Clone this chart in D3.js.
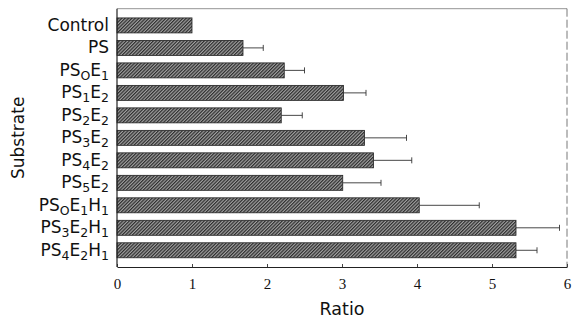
<!DOCTYPE html>
<html><head><meta charset="utf-8">
<script src="https://cdn.jsdelivr.net/npm/d3@7"></script>
<style>body{margin:0;background:#fff}svg{display:block}</style>
</head><body>
<svg id="c" width="573" height="321"></svg>
<script>
// label parts: [text, isSubscript]
const categories = [
  [["Control",0]],
  [["PS",0]],
  [["PS",0],["O",1],["E",0],["1",1]],
  [["PS",0],["1",1],["E",0],["2",1]],
  [["PS",0],["2",1],["E",0],["2",1]],
  [["PS",0],["3",1],["E",0],["2",1]],
  [["PS",0],["4",1],["E",0],["2",1]],
  [["PS",0],["5",1],["E",0],["2",1]],
  [["PS",0],["O",1],["E",0],["1",1],["H",0],["1",1]],
  [["PS",0],["3",1],["E",0],["2",1],["H",0],["1",1]],
  [["PS",0],["4",1],["E",0],["2",1],["H",0],["1",1]]
];
const values = [1.0, 1.68, 2.23, 3.02, 2.19, 3.3, 3.42, 3.01, 4.03, 5.32, 5.32];
const errors = [0, 0.27, 0.27, 0.3, 0.28, 0.56, 0.51, 0.51, 0.8, 0.58, 0.28];
const xTicks = [0,1,2,3,4,5,6];

const svg = d3.select("#c");
const L = 117, R = 567, T = 8.7, B = 267;
const x = d3.scaleLinear().domain([0,6]).range([L,R]);
const y = d3.scaleBand().domain(d3.range(categories.length)).range([T,B]).paddingInner(1/3).paddingOuter(0.41);

const defs = svg.append("defs");
const pat = defs.append("pattern").attr("id","hatch").attr("patternUnits","userSpaceOnUse")
  .attr("width",2.4).attr("height",2.4).attr("patternTransform","rotate(45)");
pat.append("rect").attr("width",2.4).attr("height",2.4).attr("fill","#a0a0a0");
pat.append("rect").attr("width",1.2).attr("height",2.4).attr("fill","#2e2e2e");

// frame
svg.append("line").attr("x1",L).attr("x2",R).attr("y1",T).attr("y2",T).attr("stroke","#777").attr("stroke-width",0.8);
svg.append("line").attr("x1",R).attr("x2",R).attr("y1",T).attr("y2",B).attr("stroke","#555").attr("stroke-width",0.8).attr("stroke-dasharray","8,3");

// bars
svg.append("g").selectAll("rect").data(values).join("rect")
  .attr("x", x(0)).attr("y",(d,i)=>y(i)).attr("width",d=>x(d)-x(0)).attr("height",y.bandwidth())
  .attr("fill","url(#hatch)").attr("stroke","#222").attr("stroke-width",0.8);

// error bars
const eg = svg.append("g").attr("stroke","#333").attr("stroke-width",0.9);
values.forEach((v,i)=>{
  if(!errors[i]) return;
  const cy = y(i)+y.bandwidth()/2;
  eg.append("line").attr("x1",x(v)).attr("x2",x(v+errors[i])).attr("y1",cy).attr("y2",cy);
  eg.append("line").attr("x1",x(v+errors[i])).attr("x2",x(v+errors[i])).attr("y1",cy-3).attr("y2",cy+3);
});

// axes
const xa = svg.append("g").attr("transform",`translate(0,${B})`)
  .call(d3.axisBottom(x).tickValues(xTicks).tickSizeInner(-3).tickSizeOuter(0).tickPadding(11).tickFormat(d3.format("d")));
xa.select(".domain").attr("stroke","#222").attr("stroke-width",1.2);
xa.selectAll(".tick line").attr("stroke","#444");
xa.selectAll("text").attr("font-family","'Liberation Serif', serif").attr("font-size",15).attr("fill","#111");
svg.append("line").attr("x1",L).attr("x2",L).attr("y1",T).attr("y2",B).attr("stroke","#222").attr("stroke-width",1.2);

// category labels
const lg = svg.append("g").attr("font-family","'DejaVu Sans', sans-serif").attr("fill","#111");
categories.forEach((parts,i)=>{
  const t = lg.append("text").attr("x",109).attr("y",y(i)+y.bandwidth()/2+5.5).attr("text-anchor","end").attr("font-size",17);
  parts.forEach(([s,sub])=>{
    const ts = t.append("tspan").text(s);
    if(sub) ts.attr("font-size",12.5).attr("dy",4);
    else ts.attr("dy", t.selectAll("tspan").size()>1 ? -4 : 0);
  });
});

svg.append("text").attr("x",x(3)).attr("y",315).attr("text-anchor","middle")
  .attr("font-family","'DejaVu Sans', sans-serif").attr("font-size",17.5).attr("fill","#111").text("Ratio");
svg.append("text").attr("transform",`translate(24,${(T+B)/2}) rotate(-90)`).attr("text-anchor","middle")
  .attr("font-family","'DejaVu Sans', sans-serif").attr("font-size",17).attr("fill","#111").text("Substrate");
</script>
</body></html>
